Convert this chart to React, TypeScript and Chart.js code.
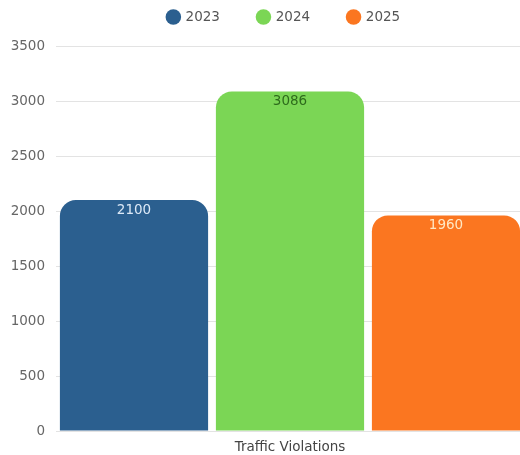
import React, { useEffect, useRef } from "react";
import { Chart, registerables } from "chart.js";

Chart.register(...registerables);

const categories = ["Traffic Violations"];
const seriesNames = ["2023", "2024", "2025"];
const values2023 = [2100];
const values2024 = [3086];
const values2025 = [1960];
const yTicks = [0, 500, 1000, 1500, 2000, 2500, 3000, 3500];

const barColors = ["#2B5F8F", "#7BD655", "#FB7620"];
const labelColors = ["#DCE9F7", "#2E6B1C", "#FFE8C4"];

const FONT = "'DejaVu Sans', Verdana, sans-serif";
const FS = 13.5;

export default function App() {
  const ref = useRef<HTMLCanvasElement | null>(null);

  useEffect(() => {
    document.body.style.margin = "0";
    document.body.style.overflow = "hidden";
    const canvas = ref.current;
    if (!canvas) return;

    const valueLabels = {
      id: "valueLabels",
      afterDatasetsDraw(chart: any) {
        const ctx = chart.ctx;
        ctx.save();
        ctx.font = `${FS}px ${FONT}`;
        ctx.textAlign = "center";
        ctx.textBaseline = "middle";
        chart.data.datasets.forEach((ds: any, di: number) => {
          const meta = chart.getDatasetMeta(di);
          meta.data.forEach((el: any, i: number) => {
            ctx.fillStyle = labelColors[di];
            ctx.fillText(String(ds.data[i]), el.x, el.y + 10);
          });
        });
        ctx.restore();
      },
    };

    const legendTweak = {
      id: "legendTweak",
      beforeLayout(chart: any) {
        const lg = chart.legend;
        if (lg && !lg._patched) {
          const orig = lg.fit.bind(lg);
          lg.fit = function () {
            orig();
            this.height = 46;
          };
          lg._patched = true;
        }
      },
      afterLayout(chart: any) {
        const lg = chart.legend;
        if (lg) {
          lg.top = lg.top - 27.75;
          lg.left = lg.left + 22;
          lg.right = lg.right + 22;
        }
      },
    };

    const chart = new Chart(canvas, {
      type: "bar",
      data: {
        labels: categories,
        datasets: [values2023, values2024, values2025].map((d, i) => ({
          label: seriesNames[i],
          data: d,
          backgroundColor: barColors[i],
          borderRadius: 16,
          borderSkipped: "start",
          categoryPercentage: 1,
          barPercentage: 0.95,
        })),
      },
      options: {
        responsive: false,
        animation: false,
        layout: { padding: { left: 0, top: 0, bottom: 0, right: 48 } },
        plugins: {
          legend: {
            position: "top",
            labels: {
              usePointStyle: true,
              pointStyle: "circle",
              boxWidth: 11,
              boxHeight: 11,
              padding: 38,
              color: "#555",
              font: { family: FONT, size: FS },
            },
          },
          tooltip: { enabled: false },
        },
        scales: {
          x: {
            grid: { display: false, drawTicks: false },
            border: { display: false },
            afterFit(scale: any) {
              scale.height = 24;
            },
            ticks: { color: "#444", padding: 8, font: { family: FONT, size: FS } },
          },
          y: {
            min: 0,
            max: 3500,
            afterBuildTicks(scale: any) {
              scale.ticks = yTicks.map((v) => ({ value: v }));
            },
            afterFit(scale: any) {
              scale.width = 56;
            },
            grid: { color: "#E3E3E3", drawTicks: false },
            border: { display: false },
            ticks: {
              color: "#666",
              padding: 11,
              font: { family: FONT, size: FS },
              callback: (v: any) => String(v),
            },
          },
        },
      },
      plugins: [valueLabels, legendTweak],
    });

    return () => chart.destroy();
  }, []);

  return (
    <div style={{ width: 572, height: 455 }}>
      <canvas ref={ref} width={572} height={455} style={{ display: "block" }} />
    </div>
  );
}
